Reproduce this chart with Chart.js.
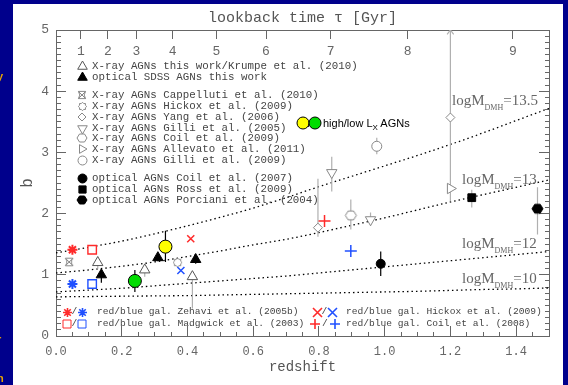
<!DOCTYPE html>
<html>
<head>
<meta charset="utf-8">
<title>bias vs redshift</title>
<script src="https://cdn.jsdelivr.net/npm/chart.js@4.4.1/dist/chart.umd.min.js"></script>
<style>
  html, body { margin: 0; padding: 0; }
  body { width: 568px; height: 385px; background: #00008c; position: relative; overflow: hidden; }
  #panel { position: absolute; left: 13px; top: 4px; width: 550px; height: 381px; background: #fff; }
  #chart { position: absolute; left: 0; top: 0; }
  .lg { position: absolute; font: 10.8px "Liberation Mono", monospace; color: #444; white-space: nowrap; line-height: 12px; height: 12px; }
  .lg.small { font-size: 9.6px; }
  .lg canvas, .lg span { position: absolute; top: 0; }
  .mlab { position: absolute; font: 15px "Liberation Serif", serif; color: #666; white-space: nowrap; line-height: 16px; }
  .mlab sub { font-size: 8px; vertical-align: -5px; }
  .note { position: absolute; font: 11px "Liberation Sans", Arial, sans-serif; color: #000; white-space: nowrap; line-height: 14px; }
  .note sub { font-size: 8px; vertical-align: -3px; }
  .edge { position: absolute; left: -3px; font: bold 11px "Liberation Sans", sans-serif; color: #e8a400; }
</style>
</head>
<body>
<div id="panel"></div>
<canvas id="chart" width="568" height="385"></canvas>
<div class="edge" style="top:70px">y</div>
<div class="edge" style="top:333px">r</div>
<div class="edge" style="top:372px">n</div>
<script>
// ===============================
//     DATOS
// ===============================
// eje superior: tiempo de lookback (Gyr) y su redshift
const tauGyr = ["1", "2", "3", "4", "5", "6", "7", "8", "9"];
const tauZ = [0.076, 0.158, 0.245, 0.355, 0.488, 0.639, 0.836, 1.07, 1.39];

// curvas de masa de halo constante
const curveZ = [0, 0.1, 0.2, 0.3, 0.4, 0.5, 0.6, 0.7, 0.8, 0.9, 1.0, 1.1, 1.2, 1.3, 1.4, 1.5];
const bM135 = [1.36, 1.45, 1.55, 1.67, 1.80, 1.94, 2.09, 2.26, 2.44, 2.61, 2.78, 2.95, 3.13, 3.32, 3.52, 3.72];
const bM13 = [1.03, 1.08, 1.14, 1.21, 1.30, 1.39, 1.49, 1.58, 1.69, 1.81, 1.93, 2.06, 2.19, 2.31, 2.43, 2.55];
const bM12 = [0.72, 0.75, 0.78, 0.82, 0.86, 0.90, 0.94, 0.98, 1.03, 1.08, 1.13, 1.18, 1.23, 1.28, 1.33, 1.38];
const bM10 = [0.64, 0.645, 0.65, 0.655, 0.66, 0.67, 0.68, 0.69, 0.70, 0.71, 0.72, 0.73, 0.745, 0.76, 0.77, 0.785];

// X-ray AGNs this work / Krumpe
const krumpeZ = [0.127, 0.27, 0.415];
const krumpeB = [1.20, 1.08, 0.97];
const krumpeLo = [1.10, 0.97, 0.45];
const krumpeHi = [1.30, 1.16, 1.04];
// optical SDSS AGNs this work
const sdssZ = [0.138, 0.31, 0.425];
const sdssB = [1.00, 1.28, 1.25];
const sdssLo = [0.87, 1.22, 1.18];
const sdssHi = [1.06, 1.34, 1.32];
// high / low Lx
const hiLxZ = [0.333], hiLxB = [1.46], hiLxLo = [1.21], hiLxHi = [1.72];
const loLxZ = [0.24], loLxB = [0.90], loLxLo = [0.72], loLxHi = [1.08];
// otros trabajos X-ray
const cappZ = [0.04], cappB = [1.21];
const hickZ = [0.37], hickB = [1.20];
const yangZ = [0.797, 1.2], yangB = [1.77, 3.57], yangLo = [1.62, 2.60], yangHi = [2.57, 4.50];
const gil05Z = [0.839, 0.957], gil05B = [2.67, 1.90], gil05Lo = [2.36, 1.80], gil05Hi = [2.93, 2.02];
const coil09Z = [0.897], coil09B = [1.97], coil09Lo = [1.74], coil09Hi = [2.23];
const alleZ = [1.2], alleB = [2.41], alleLo = [2.20], alleHi = [5.0];
const gil09Z = [0.976], gil09B = [3.10], gil09Lo = [2.97], gil09Hi = [3.24];
const arrowZ = [1.19, 1.2, 1.21], arrowB = [4.93, 5.0, 4.93];
// AGNs opticos
const coil07Z = [0.988], coil07B = [1.18], coil07Lo = [0.98], coil07Hi = [1.38];
const rossZ = [1.265], rossB = [2.26], rossLo = [2.10], rossHi = [2.39];
const porcZ = [1.465], porcB = [2.08], porcLo = [1.66], porcHi = [2.43];
// galaxias rojas / azules
const zehZ = [0.05], zehRedB = [1.41], zehBlueB = [0.85];
const madZ = [0.11], madRedB = [1.41], madBlueB = [0.85];
const hgRedZ = [0.41], hgRedB = [1.59], hgBlueZ = [0.38], hgBlueB = [1.07];
const c08RedZ = [0.817], c08RedB = [1.88], c08BlueZ = [0.897], c08BlueB = [1.39];

// textos de la leyenda
const legendTexts = [
  "X-ray AGNs this work/Krumpe et al. (2010)",
  "optical SDSS AGNs this work",
  "X-ray AGNs Cappelluti et al. (2010)",
  "X-ray AGNs Hickox et al. (2009)",
  "X-ray AGNs Yang et al. (2006)",
  "X-ray AGNs Gilli et al. (2005)",
  "X-ray AGNs Coil et al. (2009)",
  "X-ray AGNs Allevato et al. (2011)",
  "X-ray AGNs Gilli et al. (2009)",
  "optical AGNs Coil et al. (2007)",
  "optical AGNs Ross et al. (2009)",
  "optical AGNs Porciani et al. (2004)"
];
const legendSyms = ["tri", "triFill", "hourglass", "gear", "diamond", "triDown", "hex", "triRight", "circle", "dot", "squareFill", "hexFill"];
const galTexts = [
  "red/blue gal. Zehavi et al. (2005b)",
  "red/blue gal. Madgwick et al. (2003)",
  "red/blue gal. Hickox et al. (2009)",
  "red/blue gal. Coil et al. (2008)"
];
const massLabels = ["13.5", "13", "12", "10"];

const RED = "#ff2a2a", BLUE = "#2050ff", GRAY = "#888", EGRAY = "#b0b0b0";

// ===============================
//     SIMBOLOS
// ===============================
function drawSym(g, kind, cx, cy, r, color, fill) {
  g.save();
  g.lineWidth = 1;
  g.strokeStyle = color;
  g.fillStyle = fill || "#fff";
  g.beginPath();
  if (kind === "tri" || kind === "triFill") {
    g.moveTo(cx, cy - r); g.lineTo(cx + 0.87 * r, cy + 0.5 * r); g.lineTo(cx - 0.87 * r, cy + 0.5 * r); g.closePath();
  } else if (kind === "triDown") {
    g.moveTo(cx, cy + r); g.lineTo(cx + 0.87 * r, cy - 0.5 * r); g.lineTo(cx - 0.87 * r, cy - 0.5 * r); g.closePath();
  } else if (kind === "triRight") {
    g.moveTo(cx + r, cy); g.lineTo(cx - 0.5 * r, cy - 0.87 * r); g.lineTo(cx - 0.5 * r, cy + 0.87 * r); g.closePath();
  } else if (kind === "diamond") {
    g.moveTo(cx, cy - r); g.lineTo(cx + r, cy); g.lineTo(cx, cy + r); g.lineTo(cx - r, cy); g.closePath();
  } else if (kind === "circle" || kind === "dot" || kind === "ball") {
    g.arc(cx, cy, r, 0, Math.PI * 2);
  } else if (kind === "square" || kind === "squareFill") {
    g.rect(cx - 0.8 * r, cy - 0.8 * r, 1.6 * r, 1.6 * r);
  } else if (kind === "hex" || kind === "hexFill") {
    g.moveTo(cx - r, cy); g.lineTo(cx - 0.5 * r, cy - 0.8 * r); g.lineTo(cx + 0.5 * r, cy - 0.8 * r);
    g.lineTo(cx + r, cy); g.lineTo(cx + 0.5 * r, cy + 0.8 * r); g.lineTo(cx - 0.5 * r, cy + 0.8 * r); g.closePath();
  } else if (kind === "gear") {
    for (let i = 0; i < 16; i++) {
      const a = i * Math.PI / 8, rr = i % 2 ? r * 0.75 : r;
      const px = cx + rr * Math.cos(a), py = cy + rr * Math.sin(a);
      if (i) g.lineTo(px, py); else g.moveTo(px, py);
    }
    g.closePath();
  } else {
    // simbolos solo de trazo
    g.lineWidth = kind === "hourglass" ? 1 : 1.6;
    if (kind === "hourglass") {
      g.moveTo(cx - r, cy - r); g.lineTo(cx + r, cy - r);
      g.moveTo(cx - r, cy + r); g.lineTo(cx + r, cy + r);
      g.moveTo(cx - r, cy - r); g.lineTo(cx + r, cy + r);
      g.moveTo(cx + r, cy - r); g.lineTo(cx - r, cy + r);
      g.moveTo(cx - r, cy - r); g.quadraticCurveTo(cx - 0.2 * r, cy, cx - r, cy + r);
      g.moveTo(cx + r, cy - r); g.quadraticCurveTo(cx + 0.2 * r, cy, cx + r, cy + r);
    }
    if (kind === "star" || kind === "plus") {
      g.moveTo(cx - r, cy); g.lineTo(cx + r, cy); g.moveTo(cx, cy - r); g.lineTo(cx, cy + r);
    }
    if (kind === "star" || kind === "x") {
      const d = kind === "star" ? 0.72 * r : r;
      g.moveTo(cx - d, cy - d); g.lineTo(cx + d, cy + d); g.moveTo(cx + d, cy - d); g.lineTo(cx - d, cy + d);
    }
    g.stroke();
    g.restore();
    return;
  }
  g.fill();
  g.stroke();
  g.restore();
}

function symCanvas(kind, r, color, fill) {
  const c = document.createElement("canvas");
  const s = Math.ceil(2 * r + 4);
  c.width = s; c.height = s;
  drawSym(c.getContext("2d"), kind, s / 2, s / 2, r, color, fill);
  return c;
}

// ===============================
//     LEYENDA (texto real)
// ===============================
const legendY = [66, 77, 95, 106, 117, 128, 138, 149, 160, 178, 189, 200];
const legendR = [5.5, 5.5, 3.6, 4.2, 4, 5.5, 5, 5, 4.5, 4.5, 4.5, 5];
legendTexts.forEach((t, i) => {
  const row = document.createElement("div");
  row.className = "lg";
  row.style.left = "76px";
  row.style.top = (legendY[i] - 6) + "px";
  const k = legendSyms[i];
  const solid = k === "triFill" || k === "dot" || k === "squareFill" || k === "hexFill";
  const dark = k === "tri" ? "#555" : solid ? "#000" : GRAY;
  const cv = symCanvas(k, legendR[i], dark, solid ? dark : "#fff");
  cv.style.left = (6 - cv.width / 2) + "px";
  cv.style.top = (6 - cv.height / 2) + "px";
  row.appendChild(cv);
  const sp = document.createElement("span");
  sp.style.left = "16px";
  sp.textContent = t;
  row.appendChild(sp);
  document.body.appendChild(row);
});

// filas rojo/azul de galaxias
function pairRow(x0, y, kind, r, text, blueX, textX) {
  const row = document.createElement("div");
  row.className = "lg small";
  row.style.left = x0 + "px";
  row.style.top = (y - 6) + "px";
  const a = symCanvas(kind, r, RED, "#fff");
  a.style.left = (6 - a.width / 2) + "px"; a.style.top = (6 - a.height / 2) + "px";
  const sl = document.createElement("span");
  sl.style.left = (6 + blueX) / 2 - 3 + "px"; sl.textContent = "/";
  const b = symCanvas(kind, r, BLUE, "#fff");
  b.style.left = (blueX - b.width / 2) + "px"; b.style.top = (6 - b.height / 2) + "px";
  const sp = document.createElement("span");
  sp.style.left = textX + "px"; sp.textContent = text;
  row.append(a, sl, b, sp);
  document.body.appendChild(row);
}
pairRow(61, 312, "star", 4.5, galTexts[0], 21, 36);
pairRow(61, 324, "square", 5, galTexts[1], 21, 36);
pairRow(311, 312, "x", 4.5, galTexts[2], 21, 35);
pairRow(309, 324, "plus", 5, galTexts[3], 26, 37);

// nota amarillo / verde
(function () {
  const n = document.createElement("div");
  n.className = "note";
  n.style.left = "296px"; n.style.top = "116px"; n.style.height = "14px";
  const y = symCanvas("ball", 6, "#000", "#ffff00");
  y.style.position = "absolute"; y.style.left = (7 - y.width / 2) + "px"; y.style.top = (7 - y.height / 2) + "px";
  const sl = document.createElement("span");
  sl.style.position = "absolute"; sl.style.left = "12px"; sl.textContent = "/";
  const gcv = symCanvas("ball", 6, "#000", "#00dd00");
  gcv.style.position = "absolute"; gcv.style.left = (19 - gcv.width / 2) + "px"; gcv.style.top = (7 - gcv.height / 2) + "px";
  const t = document.createElement("span");
  t.style.position = "absolute"; t.style.left = "27px";
  t.innerHTML = "high/low L<sub>X</sub> AGNs";
  n.append(y, sl, gcv, t);
  document.body.appendChild(n);
})();

// etiquetas de las curvas
const massPos = [[452, 101], [462, 180], [462, 244], [462, 279]];
massLabels.forEach((m, i) => {
  const d = document.createElement("div");
  d.className = "mlab";
  d.style.left = massPos[i][0] + "px";
  d.style.top = (massPos[i][1] - 9) + "px";
  d.innerHTML = "logM<sub>DMH</sub>=" + m;
  document.body.appendChild(d);
});

// ===============================
//     GRAFICA
// ===============================
function pts(zs, bs) { return zs.map((z, i) => ({ x: z, y: bs[i] })); }
function bars(list) {
  const out = [];
  list.forEach(([zs, lo, hi]) => zs.forEach((z, i) => {
    out.push({ x: z, y: lo[i] }, { x: z, y: hi[i] }, { x: z, y: null });
  }));
  return out;
}
function mark(label, zs, bs, style, r, stroke, fill, extra) {
  return Object.assign({
    label, data: pts(zs, bs), showLine: false,
    pointStyle: style, pointRadius: r, pointBorderColor: stroke,
    pointBackgroundColor: fill, pointBorderWidth: 1
  }, extra || {});
}
function line(label, data, color, width, dash) {
  return {
    label, data, showLine: true, pointRadius: 0, borderColor: color,
    borderWidth: width, borderDash: dash || [], spanGaps: false, tension: 0
  };
}
function curve(label, bs) {
  return {
    label, data: pts(curveZ, bs), showLine: true, pointRadius: 0, borderColor: "#000",
    borderWidth: 1.3, borderDash: [1.5, 3], cubicInterpolationMode: "monotone"
  };
}

const isMajorY = v => Math.abs(v - Math.round(v)) < 1e-6;
const isMajorX = v => Math.abs(v / 0.2 - Math.round(v / 0.2)) < 1e-6;
const tickFont = { family: "Liberation Mono", size: 12 };
const AX = "#666";

const datasets = [
  mark("high Lx", hiLxZ, hiLxB, "circle", 6.5, "#000", "#ffff00"),
  mark("low Lx", loLxZ, loLxB, "circle", 6.5, "#000", "#00dd00"),
  mark("Krumpe", krumpeZ, krumpeB, "triangle", 6, "#555", "#fff"),
  mark("SDSS", sdssZ, sdssB, "triangle", 6, "#000", "#000"),
  mark("Cappelluti", cappZ, cappB, symCanvas("hourglass", 3.8, GRAY), 4, GRAY, GRAY),
  mark("Hickox", hickZ, hickB, symCanvas("gear", 4.5, GRAY, "#fff"), 4, GRAY, GRAY),
  mark("Yang", yangZ, yangB, "rectRot", 4.5, GRAY, "#fff"),
  mark("Gilli05", gil05Z, gil05B, "triangle", 6, GRAY, "#fff", { pointRotation: 180 }),
  mark("Coil09", coil09Z, coil09B, symCanvas("hex", 5.5, GRAY, "#fff"), 4, GRAY, GRAY),
  mark("Allevato", alleZ, alleB, "triangle", 6, GRAY, "#fff", { pointRotation: 90 }),
  mark("Gilli09", gil09Z, gil09B, "circle", 5, GRAY, "#fff"),
  mark("Coil07", coil07Z, coil07B, "circle", 4.5, "#000", "#000"),
  mark("Ross", rossZ, rossB, "rect", 5.5, "#000", "#000"),
  mark("Porciani", porcZ, porcB, symCanvas("hexFill", 5.5, "#000", "#000"), 4, "#000", "#000"),
  mark("Zehavi red", zehZ, zehRedB, "star", 5, RED, RED, { pointBorderWidth: 2 }),
  mark("Zehavi blue", zehZ, zehBlueB, "star", 5, BLUE, BLUE, { pointBorderWidth: 2 }),
  mark("Madgwick red", madZ, madRedB, "rect", 6, RED, "#fff", { pointBorderWidth: 1.4 }),
  mark("Madgwick blue", madZ, madBlueB, "rect", 6, BLUE, "#fff", { pointBorderWidth: 1.4 }),
  mark("Hickox red", hgRedZ, hgRedB, "crossRot", 5, RED, RED, { pointBorderWidth: 1.5 }),
  mark("Hickox blue", hgBlueZ, hgBlueB, "crossRot", 5, BLUE, BLUE, { pointBorderWidth: 1.5 }),
  mark("Coil08 red", c08RedZ, c08RedB, "cross", 6, RED, RED, { pointBorderWidth: 1.5 }),
  mark("Coil08 blue", c08BlueZ, c08BlueB, "cross", 6, BLUE, BLUE, { pointBorderWidth: 1.5 }),
  line("err black", bars([[sdssZ, sdssLo, sdssHi], [hiLxZ, hiLxLo, hiLxHi], [loLxZ, loLxLo, loLxHi],
    [coil07Z, coil07Lo, coil07Hi]]), "#000", 1.2),
  line("err gray", bars([[krumpeZ, krumpeLo, krumpeHi], [yangZ, yangLo, yangHi], [gil05Z, gil05Lo, gil05Hi],
    [coil09Z, coil09Lo, coil09Hi], [alleZ, alleLo, alleHi], [gil09Z, gil09Lo, gil09Hi],
    [rossZ, rossLo, rossHi], [porcZ, porcLo, porcHi]]), EGRAY, 1.2),
  line("arrow", pts(arrowZ, arrowB), EGRAY, 1.2),
  curve("logM 13.5", bM135),
  curve("logM 13", bM13),
  curve("logM 12", bM12),
  curve("logM 10", bM10)
];

new Chart(document.getElementById("chart").getContext("2d"), {
  type: "scatter",
  data: { datasets },
  options: {
    responsive: false,
    animation: false,
    events: [],
    layout: { padding: 0 },
    plugins: { legend: { display: false }, tooltip: { enabled: false } },
    scales: {
      x: {
        type: "linear", position: "bottom", min: 0, max: 1.5,
        ticks: {
          stepSize: 0.05, maxTicksLimit: 1000, autoSkip: false, maxRotation: 0, minRotation: 0,
          color: AX, font: tickFont, padding: 19,
          callback: v => isMajorX(v) ? v.toFixed(1) : ""
        },
        grid: {
          drawOnChartArea: false, tickLength: -10, tickColor: AX,
          tickBorderDash: c => isMajorX(c.tick.value) ? [] : [5, 100]
        },
        border: { color: AX },
        title: { display: true, text: "redshift", color: "#555", font: { family: "Liberation Mono", size: 14 }, padding: { top: 0, bottom: 9 } },
        afterFit: s => { s.height = 49; }
      },
      x2: {
        type: "linear", position: "top", min: 0, max: 1.5,
        afterBuildTicks: s => { s.ticks = tauZ.map(v => ({ value: v })); },
        ticks: {
          autoSkip: false, maxRotation: 0, minRotation: 0, mirror: true, padding: 14,
          color: AX, font: { family: "Liberation Mono", size: 13 },
          callback: (v, i) => tauGyr[i]
        },
        grid: { drawOnChartArea: false, tickLength: -9, tickColor: AX },
        border: { color: AX },
        title: { display: true, text: "lookback time \u03c4 [Gyr]", color: "#555", font: { family: "Liberation Mono", size: 15 }, padding: { top: 9, bottom: 0 } },
        afterFit: s => { s.height = 30; }
      },
      y: {
        type: "linear", position: "left", min: 0, max: 5,
        ticks: {
          stepSize: 0.1, maxTicksLimit: 1000, autoSkip: false,
          color: AX, font: { family: "Liberation Mono", size: 13 }, padding: 17,
          callback: v => isMajorY(v) ? String(Math.round(v)) : ""
        },
        grid: {
          drawOnChartArea: false, tickLength: -10, tickColor: AX,
          tickBorderDash: c => isMajorY(c.tick.value) ? [] : [5, 5],
          tickBorderDashOffset: c => isMajorY(c.tick.value) ? 0 : 5
        },
        border: { color: AX },
        title: { display: true, text: "b", color: "#555", font: { family: "Liberation Mono", size: 16 }, padding: { top: 18, bottom: 0 } },
        afterFit: s => { s.width = 56; }
      },
      y2: {
        type: "linear", position: "right", min: 0, max: 5,
        ticks: { display: false, stepSize: 0.1, maxTicksLimit: 1000, autoSkip: false },
        grid: {
          drawOnChartArea: false, tickLength: -10, tickColor: AX,
          tickBorderDash: c => isMajorY(c.tick.value) ? [] : [5, 100]
        },
        border: { color: AX },
        afterFit: s => { s.width = 19; }
      }
    }
  }
});
</script>
</body>
</html>
